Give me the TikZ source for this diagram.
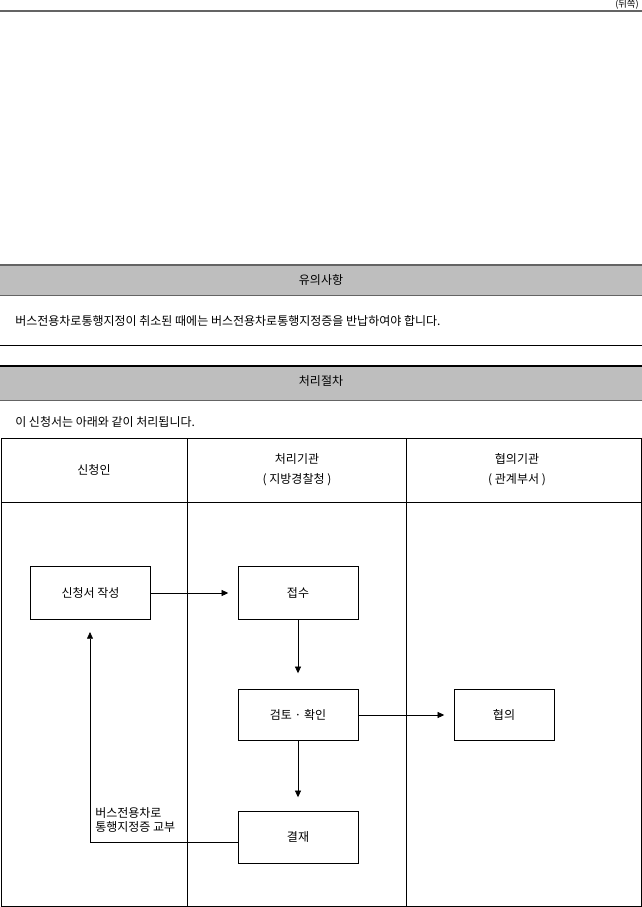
\documentclass[tikz,border=0pt]{standalone}
\usepackage{fontspec}
\setmainfont{Noto Sans CJK KR}
\usetikzlibrary{arrows.meta}
\definecolor{barfill}{RGB}{190,190,190}
\definecolor{barline}{RGB}{100,100,100}
\tikzset{
  box/.style={draw, line width=0.6pt, minimum width=90pt, minimum height=40pt, inner sep=0pt, font=\small},
  txt/.style={inner sep=0.75pt, font=\small},
  flow/.style={-{Triangle[length=5pt,width=4.5pt]}, line width=0.5pt, shorten >=7pt}
}
\begin{document}
\begin{tikzpicture}[x=0.75pt,y=0.75pt,yscale=-1,xscale=1]
\useasboundingbox (0,0) rectangle (642,907);

% top rule
\draw [barline, line width=2.2pt] (0,11) -- (642,11) ;
\node [txt, anchor=north east, font=\scriptsize] (side) at (640,-1) {(뒤쪽)};

% bar: notes
\fill [barfill] (0,265) rectangle (642,295) ;
\draw [barline, line width=2pt] (0,265) -- (642,265) ;
\draw [barline, line width=0.5pt] (0,295) -- (642,295) ;
\node [txt] (notetitle) at (321,280) {유의사항};
\node [txt, anchor=west] (note) at (14,321) {버스전용차로통행지정이 취소된 때에는 버스전용차로통행지정증을 반납하여야 합니다.};
\draw [line width=0.6pt] (0,345) -- (642,345) ;

% bar: procedure
\fill [barfill] (0,366) rectangle (642,400) ;
\draw [line width=1.5pt] (0,366) -- (642,366) ;
\draw [barline, line width=0.5pt] (0,400) -- (642,400) ;
\node [txt] (proctitle) at (321,381) {처리절차};
\node [txt, anchor=west] (intro) at (14,422) {이 신청서는 아래와 같이 처리됩니다.};

% table
\draw [line width=0.6pt] (1,438) rectangle (641,906) ;
\draw [line width=0.6pt] (1,502) -- (641,502) ;
\draw [line width=0.6pt] (187,438) -- (187,906) ;
\draw [line width=0.6pt] (406,438) -- (406,906) ;
\node [txt] (colA) at (94,470) {신청인};
\node [txt, align=center] (colB) at (297,470) {처리기관\\[4pt]( 지방경찰청 )};
\node [txt, align=center] (colC) at (517,470) {협의기관\\[4pt]( 관계부서 )};

% boxes
\node [box] (apply) at (90.5,593) {신청서 작성};
\node [box] (receive) at (298,593) {접수};
\node [box, minimum height=38pt] (review) at (298,715) {검토 · 확인};
\node [box, minimum width=75pt, minimum height=38pt] (consult) at (504,715) {협의};
\node [box, minimum height=39pt] (approve) at (298,837) {결재};
\coordinate (corner) at (90,842);

% connectors
\draw [flow] (apply) -- (receive) ;
\draw [flow, shorten >=12pt] (receive) -- (review) ;
\draw [flow] (review) -- (consult) ;
\draw [flow, shorten >=10pt] (review) -- (approve) ;
\draw [flow, shorten >=9pt] (approve.west |- corner) -- (corner) -- (apply.south -| corner) ;
\node [txt, anchor=south west, align=left] (issue) at (94,834) {버스전용차로\\통행지정증 교부};

\end{tikzpicture}
\end{document}
